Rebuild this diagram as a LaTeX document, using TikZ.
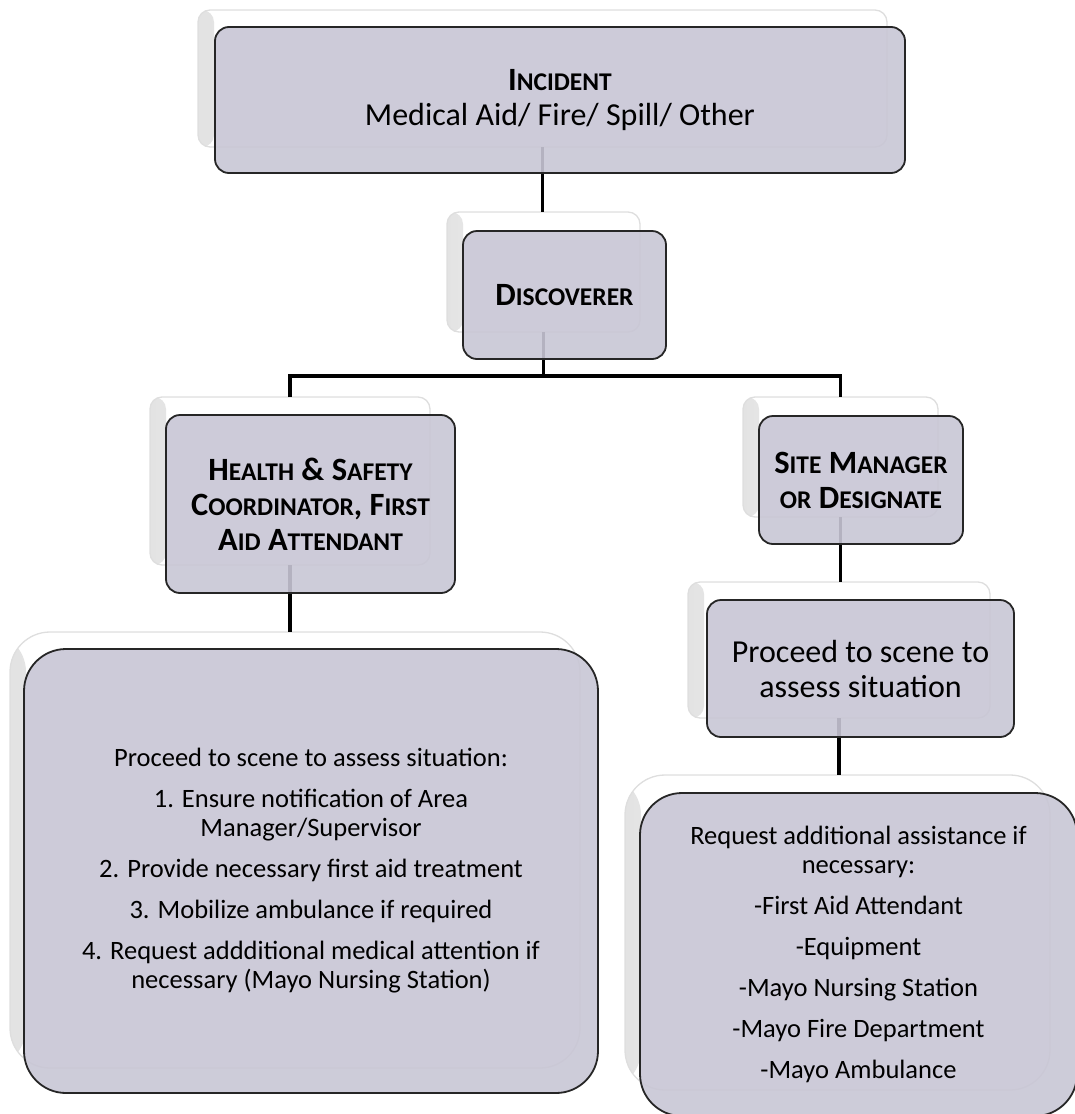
\documentclass[tikz,border=0pt]{standalone}
\usepackage{fontspec}
\setmainfont{Carlito}
\definecolor{boxfill}{RGB}{200,198,213}
\newcommand\smc[1]{{\fontsize{25.5}{35}\selectfont #1}}
\begin{document}
\begin{tikzpicture}[x=1pt,y=-1pt,
  sbox/.style={draw=black!13, line width=1.3pt, fill=white, inner sep=0pt, outer sep=0pt,
    path picture={\shade[left color=black!11, right color=white]
      (path picture bounding box.north west) rectangle ([xshift=16pt]path picture bounding box.south west);}},
  mbox/.style={draw=black!85, line width=1.8pt, fill=boxfill, fill opacity=0.9, text opacity=1,
    inner sep=0pt, outer sep=0pt, align=center, text=black},
  conn/.style={line width=3.5pt, draw=black, line cap=butt, line join=miter},
  hfont/.style={font=\fontsize{32.5}{35}\selectfont\bfseries},
  bfont/.style={font=\fontsize{32}{35}\selectfont},
  sfont/.style={font=\fontsize{26.5}{29}\selectfont}
]
\useasboundingbox (0,0) rectangle (1075,1114);
% shadow boxes
\node[sbox, rounded corners=12pt, minimum width=689pt, minimum height=137pt] (incS) at (542.5,78.5) {};
\node[sbox, rounded corners=12pt, minimum width=193pt, minimum height=120pt] (discS) at (543.5,272) {};
\node[sbox, rounded corners=12pt, minimum width=280pt, minimum height=168pt] (hsS) at (290,481) {};
\node[sbox, rounded corners=12pt, minimum width=195pt, minimum height=120pt] (smS) at (840.5,457) {};
\node[sbox, rounded corners=12pt, minimum width=302pt, minimum height=136pt] (prS) at (839,650) {};
\node[sbox, rounded corners=40pt, minimum width=570pt, minimum height=436pt] (lbS) at (295,850) {};
\node[sbox, rounded corners=40pt, minimum width=425pt, minimum height=315pt] (rbS) at (837.5,932.5) {};
% connectors
\coordinate (split) at (543,376);
\draw[conn] (incS.south) -- (incS.south |- discS.north);
\draw[conn] (discS.south) -- (discS.south |- split);
\draw[conn] (hsS.north) -- (hsS.north |- split) -- (smS.north |- split) -- (smS.north);
\draw[conn] (hsS.south) -- (hsS.south |- lbS.north);
\draw[conn] (smS.south) -- (smS.south |- prS.north);
\draw[conn] (prS.south) -- (prS.south |- rbS.north);
% main boxes
\node[mbox, bfont, rounded corners=14pt, minimum width=690pt, minimum height=146pt] (inc) at (560,100)
  {{\bfseries\fontsize{32.5}{35}\selectfont I\smc{NCIDENT}}\\Medical Aid/ Fire/ Spill/ Other};
\node[mbox, hfont, rounded corners=14pt, minimum width=203pt, minimum height=128pt] (disc) at (564.5,295)
  {D\smc{ISCOVERER}};
\node[mbox, hfont, rounded corners=14pt, minimum width=289pt, minimum height=178pt] (hs) at (310.5,504)
  {H\smc{EALTH} \& S\smc{AFETY}\\C\smc{OORDINATOR}, F\smc{IRST}\\A\smc{ID} A\smc{TTENDANT}};
\node[mbox, hfont, rounded corners=14pt, minimum width=204pt, minimum height=128pt] (sm) at (861,480)
  {S\smc{ITE} M\smc{ANAGER}\\\smc{OR} D\smc{ESIGNATE}};
\node[mbox, bfont, rounded corners=14pt, minimum width=307pt, minimum height=137pt] (pr) at (860.5,668.5)
  {Proceed to scene to\\assess situation};
\node[mbox, sfont, rounded corners=42pt, minimum width=574pt, minimum height=444pt] (lb) at (311,871)
  {Proceed to scene to assess situation:\\[12pt]
   1. Ensure notification of Area\\Manager/Supervisor\\[12pt]
   2. Provide necessary first aid treatment\\[12pt]
   3. Mobilize ambulance if required\\[12pt]
   4. Request addditional medical attention if\\necessary (Mayo Nursing Station)};
\node[mbox, sfont, rounded corners=42pt, minimum width=437pt, minimum height=323pt] (rb) at (858.5,954.5)
  {Request additional assistance if\\necessary:\\[12pt]
   -First Aid Attendant\\[12pt]
   -Equipment\\[12pt]
   -Mayo Nursing Station\\[12pt]
   -Mayo Fire Department\\[12pt]
   -Mayo Ambulance};
\end{tikzpicture}
\end{document}
